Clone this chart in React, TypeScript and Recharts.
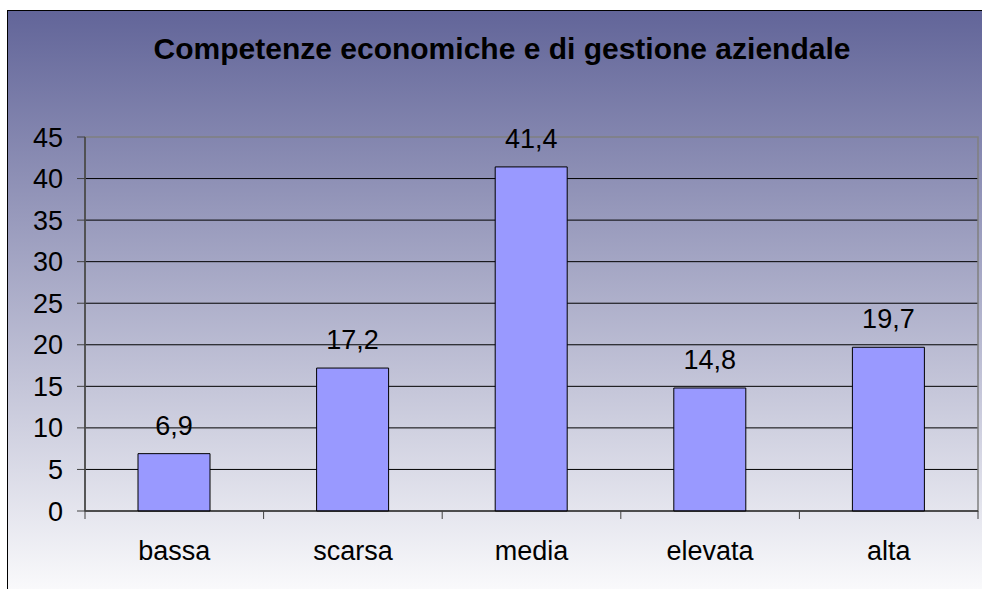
import React from "react";
import {
  BarChart,
  Bar,
  XAxis,
  YAxis,
  CartesianGrid,
  LabelList,
  ReferenceArea,
} from "recharts";

const categories = ["bassa", "scarsa", "media", "elevata", "alta"];
const values = [6.9, 17.2, 41.4, 14.8, 19.7];
const yTicks = [0, 5, 10, 15, 20, 25, 30, 35, 40, 45];
const gridValues = [5, 10, 15, 20, 25, 30, 35, 40];

const data = categories.map((name, i) => ({ name, value: values[i] }));

const FONT = "'Liberation Sans', Arial, sans-serif";

const fmt = (v: any) => String(v).replace(".", ",");

function XTick({ x, y, payload, index }: any) {
  const half = payload?.offset ?? 0;
  const last = index === categories.length - 1;
  return (
    <g>
      <line x1={x - half} x2={x - half} y1={y} y2={y + 8} stroke="#404040" />
      {last && (
        <line x1={x + half} x2={x + half} y1={y} y2={y + 8} stroke="#404040" />
      )}
      <text
        x={x}
        y={y + 49}
        textAnchor="middle"
        fontSize={27}
        fontFamily={FONT}
        fill="#000"
      >
        {payload.value}
      </text>
    </g>
  );
}

export default function App() {
  return (
    <div
      style={{
        position: "absolute",
        left: 0,
        top: 0,
        width: 982,
        height: 589,
        overflow: "hidden",
        background: "#fff",
      }}
    >
      <div
        style={{
          position: "absolute",
          left: 7,
          top: 10,
          width: 1000,
          height: 600,
          border: "1.5px solid #000",
          background: "linear-gradient(to bottom, #626599 0%, #ffffff 100%)",
        }}
      />
      <div
        style={{
          position: "absolute",
          left: 0,
          top: 32,
          width: 1004,
          textAlign: "center",
          fontFamily: FONT,
          fontWeight: "bold",
          fontSize: 30,
          color: "#000",
        }}
      >
        Competenze economiche e di gestione aziendale
      </div>
      <div style={{ position: "absolute", left: 0, top: 0 }}>
        <BarChart
          width={982}
          height={589}
          data={data}
          margin={{ top: 137, right: 4, bottom: 0, left: 0 }}
        >
          <ReferenceArea
            y1={0}
            y2={45}
            fill="none"
            stroke="#808080"
            strokeWidth={1.5}
          />
          <CartesianGrid
            vertical={false}
            horizontalValues={gridValues}
            stroke="#000"
          />
          <XAxis
            dataKey="name"
            axisLine={{ stroke: "#000" }}
            tickLine={false}
            tickSize={0}
            tickMargin={0}
            height={78}
            tick={<XTick />}
            interval={0}
          />
          <YAxis
            domain={[0, 45]}
            ticks={yTicks}
            width={85}
            axisLine={{ stroke: "#404040", strokeWidth: 1.5 }}
            tickLine={{ stroke: "#404040" }}
            tickSize={8}
            tickMargin={14}
            tick={{ fontSize: 27, fontFamily: FONT, fill: "#000" }}
          />
          <Bar
            dataKey="value"
            fill="#9999ff"
            stroke="#000"
            strokeWidth={1}
            barSize={72}
            isAnimationActive={false}
          >
            <LabelList
              dataKey="value"
              position="top"
              offset={19}
              formatter={fmt}
              style={{ fontSize: 27, fontFamily: FONT, fill: "#000" }}
            />
          </Bar>
        </BarChart>
      </div>
    </div>
  );
}
